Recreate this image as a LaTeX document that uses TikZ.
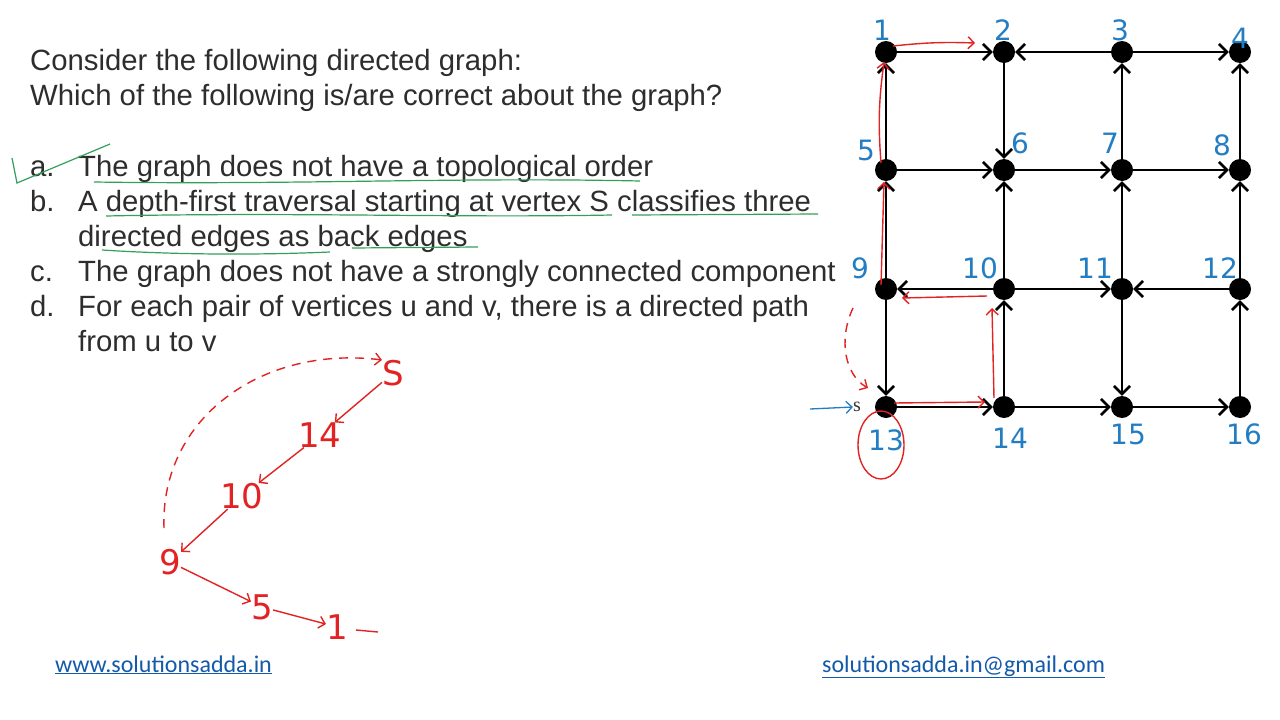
\documentclass[tikz,border=0pt]{standalone}
\usepackage{fontspec}
\setmainfont{Liberation Sans}
\newfontfamily\footfont{Carlito}
\newfontfamily\handfont{DejaVu Sans}
\newfontfamily\serffont{Liberation Serif}
\usetikzlibrary{arrows.meta,shapes.geometric}
\definecolor{txt}{RGB}{45,45,45}
\definecolor{hblue}{RGB}{35,125,195}
\definecolor{hred}{RGB}{225,35,35}
\definecolor{hgreen}{RGB}{50,160,90}
\definecolor{linkc}{RGB}{20,90,170}
\begin{document}
\begin{tikzpicture}[x=1pt,y=-1pt,
  vtx/.style={circle,fill=black,inner sep=0pt,minimum size=22pt},
  edg/.style={line width=2.6pt,-{Straight Barb[length=8pt,width=16pt,line width=2.6pt]}},
  qtext/.style={anchor=base west,inner sep=0pt,text=txt,font=\fontsize{29.3}{33}\selectfont},
  nlab/.style={inner sep=0pt,text=hblue,font=\handfont\fontsize{28}{30}\selectfont},
  redarr/.style={draw=hred,line width=1.4pt,-{Straight Barb[length=6pt,width=12pt,line width=1.4pt]}},
  reddash/.style={dash pattern=on 9pt off 7pt},
  redline/.style={draw=hred,line width=1.4pt},
  hw/.style={inner sep=0pt,text=hred,font=\handfont\fontsize{34}{36}\selectfont},
  gline/.style={draw=hgreen,line width=1.2pt},
  foot/.style={anchor=base west,inner sep=0pt,text=linkc,font=\footfont\fontsize{24}{26}\selectfont}]
\useasboundingbox[fill=white] (0,0) rectangle (1280,720);

% question text
\node[qtext] (q1) at (30,70) {Consider the following directed graph:};
\node[qtext] (q2) at (30,105) {Which of the following is/are correct about the graph?};
\node[qtext] (la) at (30,176) {a.};
\node[qtext] (ta) at (78,176) {The graph does not have a topological order};
\node[qtext] (lb) at (30,211) {b.};
\node[qtext] (tb) at (78,211) {A depth-first traversal starting at vertex S classifies three};
\node[qtext] (tb2) at (78,246) {directed edges as back edges};
\node[qtext] (lc) at (30,281) {c.};
\node[qtext] (tc) at (78,281) {The graph does not have a strongly connected component};
\node[qtext] (ld) at (30,316) {d.};
\node[qtext] (td) at (78,316) {For each pair of vertices u and v, there is a directed path};
\node[qtext] (td2) at (78,351) {from u to v};

% footer
\node[foot] (f1) at (55,672) {\underline{www.solutionsadda.in}};
\node[foot] (f2) at (822,672) {\underline{solutionsadda.in@gmail.com}};

% vertices
\foreach \i/\x/\y in {1/886/52,2/1004/52,3/1122/52,4/1240/52,
                      5/886/170,6/1004/170,7/1122/170,8/1240/170,
                      9/886/289,10/1004/289,11/1122/289,12/1240/289,
                      13/886/407,14/1004/407,15/1122/407,16/1240/407}
  \node[vtx] (v\i) at (\x,\y) {};

% edges
\foreach \a/\b in {1/2,3/2,3/4,5/1,2/6,7/3,8/4,5/6,6/7,7/8,9/5,10/6,11/7,12/8,
                   10/9,10/11,12/11,9/13,14/10,11/15,16/12,13/14,14/15,15/16}
  \draw[edg] (v\a) -- (v\b);

% S label
\node[inner sep=0pt,font=\serffont\fontsize{20}{22}\selectfont,text=black!80] (slab) at (857,407) {s};
\coordinate (sin) at (810,409);
\draw[draw=hblue,line width=1.3pt,-{Straight Barb[length=6pt,width=12pt,line width=1.3pt]}] (sin) -- (slab.west);

% blue vertex numbers
\foreach \i/\x/\y in {1/882/30,2/1003/30,3/1120/30,4/1240/38,
                      5/866/150,6/1020/143,7/1110/143,8/1222/145,
                      9/860/268,10/980/268,11/1095/268,12/1220/268,
                      13/886/440,14/1010/438,15/1128/434,16/1244/434}
  \node[nlab] (l\i) at (\x,\y) {\i};

% red DFS path annotations on graph
\coordinate (r1a) at (893,46);
\coordinate (r1b) at (975,43);
\draw[redarr] (r1a) to[bend left=4] (r1b);
\coordinate (r5a) at (881,163);
\coordinate (r5b) at (884,62);
\draw[redarr] (r5a) to[bend left=6] (r5b);
\coordinate (r9a) at (881,285);
\coordinate (r9b) at (884,182);
\draw[redarr] (r9a) -- (r9b);
\coordinate (r10a) at (987,296);
\coordinate (r10b) at (902,298);
\draw[redarr] (r10a) -- (r10b);
\coordinate (r14a) at (994,398);
\coordinate (r14b) at (992,308);
\draw[redarr] (r14a) -- (r14b);
\coordinate (r13a) at (894,403);
\coordinate (r13b) at (985,402);
\draw[redarr] (r13a) -- (r13b);
\coordinate (rda) at (853,308);
\coordinate (rdb) at (868,388);
\draw[redarr,reddash] (rda) .. controls (838,340) and (845,375) .. (rdb);
\node[draw=hred,line width=1.4pt,ellipse,minimum width=46pt,minimum height=68pt,inner sep=0pt] (c13) at (881,445) {};

% green annotations
\coordinate (g1) at (12,158);
\coordinate (g2) at (17,183);
\coordinate (g3) at (110,144);
\draw[gline] (g1) -- (g2) -- (g3);
\coordinate (ga1) at (94,182);
\coordinate (ga2) at (640,181);
\draw[gline] (ga1) .. controls (300,185) and (450,177) .. (ga2);
\coordinate (gb1) at (106,216);
\coordinate (gb2) at (612,215);
\draw[gline] (gb1) .. controls (300,212) and (450,218) .. (gb2);
\coordinate (gb3) at (632,215);
\coordinate (gb4) at (818,214);
\draw[gline] (gb3) -- (gb4);
\coordinate (gc1) at (102,250);
\coordinate (gc2) at (330,252);
\draw[gline] (gc1) .. controls (180,255) and (260,255) .. (gc2);
\coordinate (gc3) at (352,248);
\coordinate (gc4) at (478,247);
\draw[gline] (gc3) -- (gc4);

% handwritten DFS sequence
\node[hw] (hS) at (393,373) {S};
\node[hw] (h14) at (320,435) {14};
\node[hw] (h10) at (242,496) {10};
\node[hw] (h9) at (170,562) {9};
\node[hw] (h5) at (262,607) {5};
\node[hw] (h1) at (337,627) {1};
\coordinate (hdash0) at (356,630);
\coordinate (hdash) at (378,632);
\draw[redline] (hdash0) -- (hdash);
\draw[redarr] (hS) -- (h14);
\draw[redarr] (h14) -- (h10);
\draw[redarr] (h10) -- (h9);
\draw[redarr] (h9) -- (h5);
\draw[redarr] (h5) -- (h1);
\coordinate (hd0) at (164,528);
\draw[redarr,reddash] (hd0) .. controls (160,420) and (260,345) .. (hS.north west);
\end{tikzpicture}
\end{document}
